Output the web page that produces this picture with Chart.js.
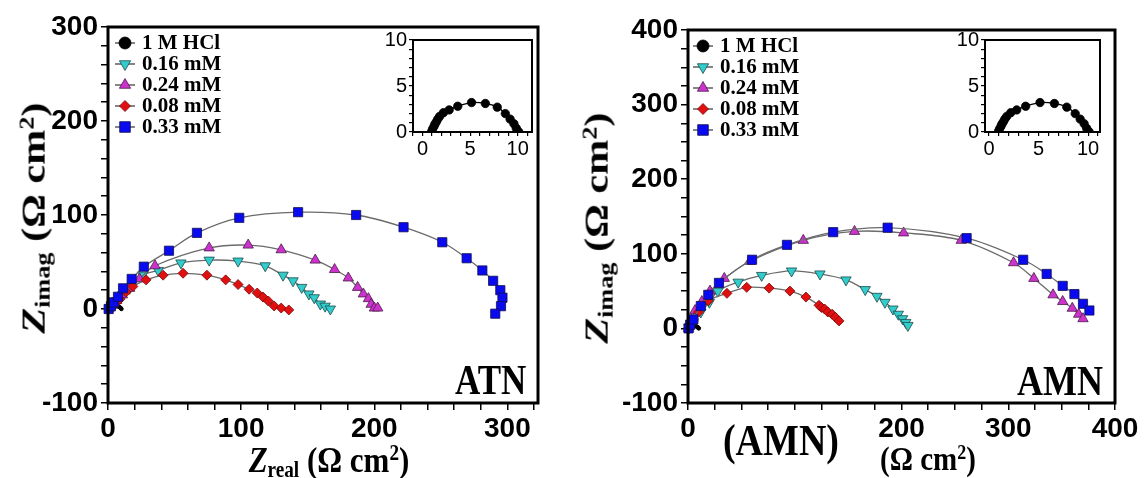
<!DOCTYPE html>
<html>
<head>
<meta charset="utf-8">
<script src="https://cdn.jsdelivr.net/npm/chart.js@4.4.0/dist/chart.umd.min.js"></script>
<style>
  html,body{margin:0;padding:0;background:#fff;}
  body{width:1145px;height:478px;position:relative;overflow:hidden;}
  canvas{position:absolute;}
  .t{position:absolute;white-space:nowrap;font-family:"Liberation Serif","Times New Roman",serif;font-weight:bold;color:#000;line-height:1;}
  .t sub{font-size:0.62em;vertical-align:-0.25em;}
  .t sup{font-size:0.62em;vertical-align:0.55em;}
  .rot{transform:translate(-50%,-50%) rotate(-90deg) scaleX(1.28);}
  .ctr{transform:translate(-50%,-50%) scaleY(1.15);}
  .str{transform:scaleY(1.18);transform-origin:0 100%;}
</style>
</head>
<body>
<canvas id="mainL" width="575" height="478" style="left:0;top:0"></canvas>
<canvas id="mainR" width="570" height="478" style="left:575px;top:0"></canvas>
<canvas id="insL" width="195" height="150" style="left:350px;top:15px"></canvas>
<canvas id="insR" width="200" height="150" style="left:930px;top:15px"></canvas>

<div class="t rot" style="left:35px;top:218px;font-size:33px;"><i>Z</i><sub>imag</sub> (Ω cm<sup>2</sup>)</div>
<div class="t ctr" style="left:329px;top:461px;font-size:31px;"><i>Z</i><sub>real</sub> (Ω cm<sup>2</sup>)</div>
<div class="t rot" style="left:598px;top:228px;font-size:33px;"><i>Z</i><sub>imag</sub> (Ω cm<sup>2</sup>)</div>
<div class="t ctr" style="left:928px;top:459px;font-size:29px;">(Ω cm<sup>2</sup>)</div>
<div class="t ctr" style="left:781px;top:440px;font-size:38px;">(AMN)</div>
<div class="t str" style="left:455px;top:366px;font-size:35px;">ATN</div>
<div class="t str" style="left:1017px;top:366px;font-size:36px;">AMN</div>

<script>
// ---------- DATA ----------
const seriesLabels = ['1 M HCl', '0.16 mM', '0.24 mM', '0.08 mM', '0.33 mM'];

// 1 M HCl (blank) – same curve in both insets and main plots
const hclReal = [0.95, 1.05, 1.2, 1.3, 1.45, 1.6, 1.8, 2.2, 2.8, 3.7, 5.15, 6.6, 7.85, 8.7, 9.2, 9.6, 9.85, 10.1];
const hclImag = [0.03, 0.3, 0.6, 0.85, 1.1, 1.4, 1.7, 2.1, 2.4, 2.8, 3.2, 3.1, 2.7, 2.0, 1.4, 0.9, 0.4, 0.03];

// ATN panel
const atnReal016 = [1.1, 3.2, 6.5, 10.8, 16.2, 25.9, 37.7, 54.8, 76.0, 97.7, 118.1, 131.5, 139.0, 145.5, 150.9, 154.9, 159.5, 163.1, 167.0];
const atnImag016 = [1, 4, 9, 15, 22, 36, 41, 49, 52, 51, 46, 36, 30, 23, 16, 12, 5.3, 3, 0];
const atnReal024 = [1.1, 3.2, 6.5, 10.8, 16.2, 23.7, 35.3, 76.0, 105.3, 130.1, 155.7, 170.2, 180.5, 187.5, 191.8, 195.6, 197.7, 200.1, 202.6];
const atnImag024 = [1, 4, 9, 15, 22, 32, 46, 65, 68, 63, 52, 42, 33, 23, 16, 11, 5, 1, 1];
const atnReal008 = [0.5, 3.2, 5.9, 9.1, 13.6, 18.7, 28.6, 41.4, 56.4, 74.3, 88.4, 97.7, 106.0, 112.1, 116.4, 120.4, 124.8, 130.1, 135.8];
const atnImag008 = [0, 3, 6, 10.6, 18, 24, 31, 36, 38, 36, 31, 26, 21, 17, 12.7, 8.5, 3.2, 1, -1];
const atnReal033 = [0.5, 2.2, 4.3, 7.5, 11.3, 17.8, 26.9, 45.8, 66.8, 98.6, 142.8, 186.4, 222.0, 251.1, 269.4, 281.2, 289.3, 294.7, 296.3, 295.2, 290.9];
const atnImag033 = [0, 3, 7, 13, 22, 32, 45, 62, 81, 97, 103, 100, 87, 71, 54, 41, 30, 20, 12, 3, -5];

// AMN panel
const amnReal016 = [1, 5, 12, 20, 28, 47, 69, 97, 123.6, 148, 166, 177, 184.5, 192, 197, 201, 204, 206];
const amnImag016 = [1, 9, 22, 35, 50, 62, 71, 77, 73, 65, 52, 43, 35, 26, 19, 13, 8, 4];
const amnReal024 = [0.5, 1, 3, 6.6, 13, 20.6, 34, 58, 108, 156, 202, 256, 305, 324, 342, 351, 360, 366, 370];
const amnImag024 = [0, 3, 11, 24, 36, 50, 67, 90, 118, 130, 128, 118, 88, 67, 45, 36, 27, 19, 13];
const amnReal008 = [1, 5, 10, 19, 36.5, 55, 76, 95.5, 110.5, 122.7, 125, 128, 131, 135, 138, 141.5];
const amnImag008 = [1, 10, 22, 37, 47, 55, 54, 50, 42, 31, 28, 26, 22, 19, 15, 10];
const amnReal033 = [0.5, 2, 5, 12, 19, 29, 60, 92.7, 136, 187, 261, 314, 336, 351, 362, 370, 376];
const amnImag033 = [0, 5, 12, 30, 45, 61, 92, 112, 129, 135, 121, 92, 73, 57, 46, 33, 24];

// tick label values
const mainLabelStep = 100;
const insetLabelStep = 5;

// ---------- HELPERS ----------
const pts = (xs, ys) => xs.map((x, i) => ({x: x, y: ys[i]}));

const styles = [
  {fill: '#000000', stroke: '#000000', shape: 'circle', rot: 0, r: 1.8},
  {fill: '#33cccc', stroke: '#1a4a4a', shape: 'triangle', rot: 180, r: 6},
  {fill: '#cc33cc', stroke: '#4a1a4a', shape: 'triangle', rot: 0, r: 6},
  {fill: '#e01010', stroke: '#7a0a0a', shape: 'rectRot', rot: 0, r: 5},
  {fill: '#0a0af0', stroke: '#101050', shape: 'rect', rot: 0, r: 6.5}
];

function makeDatasets(seriesList) {
  return seriesList.map((d, i) => {
    const s = styles[i];
    return {
      label: seriesLabels[i],
      data: d,
      showLine: true,
      borderColor: '#6b6b6b',
      borderWidth: 1.3,
      tension: 0.35,
      pointStyle: s.shape,
      pointRotation: s.rot,
      pointRadius: s.r,
      pointBackgroundColor: s.fill,
      pointBorderColor: s.stroke,
      pointBorderWidth: 0.8,
      order: i === 0 ? 20 : 10 - i
    };
  });
}

function fixedTicks(min, max, step) {
  return (scale) => {
    const t = [];
    const start = Math.ceil(min / step - 1e-9) * step;
    for (let v = start; v <= max + 1e-9; v += step) t.push({value: Math.round(v * 1000) / 1000});
    scale.ticks = t;
  };
}

const framePlugin = {
  id: 'frame',
  afterDraw(chart, args, opts) {
    const {left, top, right, bottom} = chart.chartArea;
    const ctx = chart.ctx;
    ctx.save();
    ctx.strokeStyle = '#000';
    ctx.lineWidth = opts.width || 3;
    ctx.strokeRect(left, top, right - left, bottom - top);
    ctx.restore();
  }
};

const legendPlugin = {
  id: 'miniLegend',
  afterDraw(chart, args, opts) {
    if (!opts || !opts.show) return;
    const ctx = chart.ctx;
    const x0 = chart.chartArea.left + opts.dx;
    let y = chart.chartArea.top + opts.dy;
    chart.data.datasets.forEach((ds, i) => {
      const s = styles[i];
      ctx.save();
      ctx.strokeStyle = '#444';
      ctx.lineWidth = 1.3;
      ctx.beginPath();
      ctx.moveTo(x0, y);
      ctx.lineTo(x0 + 20, y);
      ctx.stroke();
      ctx.fillStyle = s.fill;
      ctx.strokeStyle = s.stroke;
      ctx.lineWidth = 0.8;
      const r = i === 0 ? 6 : (i === 4 ? 7.5 : s.r + 0.5);
      Chart.helpers.drawPoint(ctx, {pointStyle: s.shape, rotation: s.rot, radius: r, borderWidth: 0.8}, x0 + 10, y);
      ctx.fillStyle = '#000';
      ctx.font = 'bold 21px "Liberation Serif", "Times New Roman", serif';
      ctx.textBaseline = 'middle';
      ctx.textAlign = 'left';
      ctx.fillText(ds.label, x0 + 27, y + 1);
      ctx.restore();
      y += opts.rowH;
    });
  }
};

function axis(min, max, step, labelStep, opts) {
  return {
    type: 'linear',
    min: min, max: max,
    position: opts.position,
    border: {display: false},
    grid: {drawOnChartArea: false, drawTicks: true, tickLength: opts.tickLen, color: '#000', lineWidth: opts.tickW},
    ticks: {
      autoSkip: false,
      maxRotation: 0,
      padding: opts.pad,
      color: '#000',
      font: {family: '"Liberation Sans", Arial, sans-serif', size: opts.fs, weight: opts.fw},
      callback: (v) => {
        const r = Math.round(v * 1000) / 1000;
        if (opts.hide && opts.hide.includes(r)) return '';
        return (Math.abs(r % labelStep) < 1e-6) ? String(r) : '';
      }
    },
    afterBuildTicks: fixedTicks(min, max, step),
    afterFit: (scale) => {
      if (opts.position === 'left') scale.width = opts.size; else scale.height = opts.size;
    }
  };
}

function mainChart(id, series, xr, yr, yWidth, padRight, padTop, legendDx, xHide) {
  return new Chart(document.getElementById(id), {
    type: 'scatter',
    data: {datasets: makeDatasets(series)},
    options: {
      responsive: false,
      animation: false,
      clip: false,
      layout: {padding: {left: 0, right: padRight, top: padTop, bottom: 0}},
      scales: {
        x: axis(xr[0], xr[1], xr[2], mainLabelStep, {position: 'bottom', tickLen: 7, tickW: 1.5, pad: 2, fs: 28, fw: 'bold', size: 75, hide: xHide}),
        y: axis(yr[0], yr[1], yr[2], mainLabelStep, {position: 'left', tickLen: 7, tickW: 1.5, pad: 3, fs: 28, fw: 'bold', size: yWidth})
      },
      plugins: {
        legend: {display: false},
        tooltip: {enabled: false},
        frame: {width: 3},
        miniLegend: {show: true, dx: legendDx, dy: 16, rowH: 21}
      }
    },
    plugins: [framePlugin, legendPlugin]
  });
}

function insetChart(id, xr, yWidth, padRight) {
  const ds = makeDatasets([pts(hclReal, hclImag)]);
  ds[0].pointRadius = 4.2;
  ds[0].borderColor = '#000';
  return new Chart(document.getElementById(id), {
    type: 'scatter',
    data: {datasets: ds},
    options: {
      responsive: false,
      animation: false,
      layout: {padding: {left: 0, right: padRight, top: 25, bottom: 0}},
      scales: {
        x: axis(xr[0], xr[1], 1, insetLabelStep, {position: 'bottom', tickLen: 4, tickW: 1.2, pad: 1, fs: 20, fw: 'normal', size: 33}),
        y: axis(0, 10, 1, insetLabelStep, {position: 'left', tickLen: 4, tickW: 1.2, pad: 2, fs: 20, fw: 'normal', size: yWidth})
      },
      plugins: {
        legend: {display: false},
        tooltip: {enabled: false},
        frame: {width: 2}
      }
    },
    plugins: [framePlugin]
  });
}

mainChart('mainL', [
  pts(hclReal, hclImag),
  pts(atnReal016, atnImag016),
  pts(atnReal024, atnImag024),
  pts(atnReal008, atnImag008),
  pts(atnReal033, atnImag033)
], [0, 323, 20], [-100, 300, 20], 108, 37, 27, 7, []);

mainChart('mainR', [
  pts(hclReal, hclImag),
  pts(amnReal016, amnImag016),
  pts(amnReal024, amnImag024),
  pts(amnReal008, amnImag008),
  pts(amnReal033, amnImag033)
], [0, 400, 25], [-100, 400, 25], 113, 30, 30, 5, [100]);

insetChart('insL', [-1, 11.5], 63, 13);
insetChart('insR', [-0.4, 11.2], 55, 30);
</script>
</body>
</html>
